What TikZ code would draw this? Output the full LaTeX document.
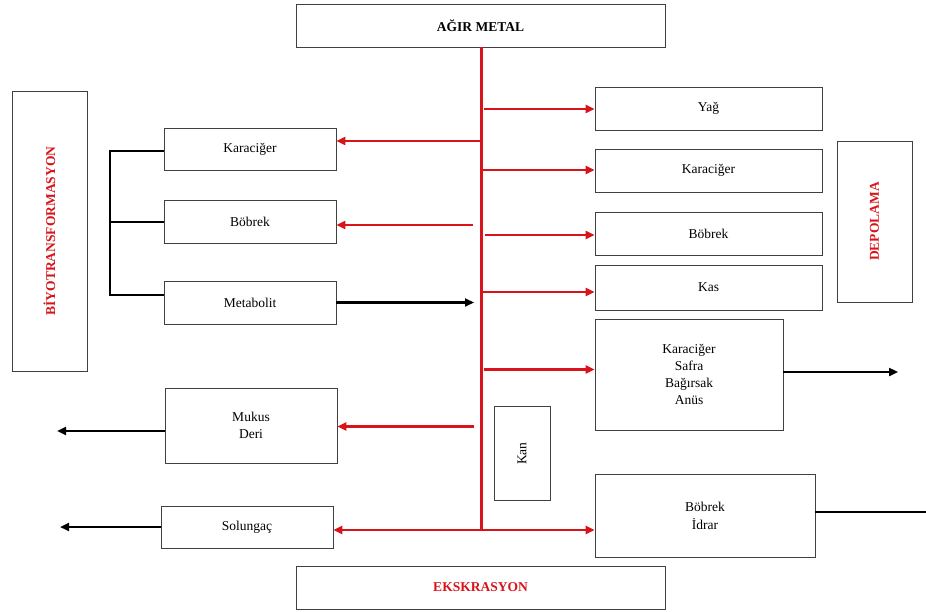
\documentclass[tikz,border=0pt]{standalone}
\usepackage{fontspec}
\setmainfont{Liberation Serif}
\usetikzlibrary{arrows.meta}
\definecolor{lred}{HTML}{D8141A}
\definecolor{bord}{HTML}{404040}
\tikzset{
  box/.style={draw=bord, line width=0.9pt, fill=white, inner sep=0pt, align=center,
    font=\fontsize{13.5}{17.5}\selectfont},
  redarr/.style={draw=lred, line width=2.8pt, -{Triangle[length=9pt,width=8pt]}},
  blkarr/.style={draw=black, line width=2.4pt, -{Triangle[length=9pt,width=8pt]}},
  bracket/.style={draw=black, line width=2.8pt},
  redtxt/.style={text=lred, font=\fontsize{13.5}{16}\selectfont\bfseries}
}
\begin{document}
\begin{tikzpicture}[x=1pt,y=-1pt]
\useasboundingbox (0,0) rectangle (926,612);
% boxes
\node[box, minimum width=369pt, minimum height=43pt, font=\fontsize{13.5}{16}\selectfont\bfseries] (agir) at (480.5,25.5) {AĞIR METAL};
\node[box, minimum width=75pt, minimum height=280pt] (biyo) at (49.5,231) {};
\node[redtxt, rotate=90] (biyot) at (49.5,231) {BİYOTRANSFORMASYON};
\node[box, minimum width=172pt, minimum height=42pt] (karL) at (250,149) {Karaciğer};
\node[box, minimum width=172pt, minimum height=43pt] (bobL) at (250,221.5) {Böbrek};
\node[box, minimum width=172pt, minimum height=43pt] (meta) at (250,302.5) {Metabolit};
\node[box, minimum width=172pt, minimum height=75pt] (mukus) at (251,425.5) {Mukus\\Deri};
\node[box, minimum width=172pt, minimum height=42pt] (solun) at (247,527) {Solungaç};
\node[box, minimum width=227pt, minimum height=43pt] (yag) at (708.5,108.5) {Yağ};
\node[box, minimum width=227pt, minimum height=43pt] (karR) at (708.5,170.5) {Karaciğer};
\node[box, minimum width=227pt, minimum height=43pt] (bobR) at (708.5,233.5) {Böbrek};
\node[box, minimum width=227pt, minimum height=45pt] (kas) at (708.5,287.5) {Kas};
\node[box, minimum width=188pt, minimum height=111pt, font=\fontsize{13.5}{16.7}\selectfont] (big) at (689,374.5) {Karaciğer\\Safra\\Bağırsak\\Anüs};
\node[box, minimum width=75pt, minimum height=161pt] (depo) at (874.5,221.5) {};
\node[redtxt, rotate=90] (depot) at (874.5,221.5) {DEPOLAMA};
\node[box, minimum width=56pt, minimum height=94pt] (kan) at (522,453.5) {};
\node[rotate=90, font=\fontsize{13.5}{16}\selectfont] (kant) at (522,453.5) {Kan};
\node[box, minimum width=220pt, minimum height=83pt, font=\fontsize{13.5}{18}\selectfont] (idrar) at (705,515.5) {Böbrek\\İdrar};
\node[box, minimum width=369pt, minimum height=43pt, text=lred, font=\fontsize{13.5}{16}\selectfont\bfseries] (eks) at (480.5,587.5) {EKSKRASYON};
% spine
\coordinate (sbot) at (481,530);
\draw[lred, line width=3pt] (agir.south -| sbot) -- (sbot);
% spine arrows
\coordinate (s1) at (484,109);
\coordinate (s2) at (481,141);
\coordinate (s3) at (481,170);
\coordinate (s4) at (473,225);
\coordinate (s5) at (485,235);
\coordinate (s6) at (481,292);
\coordinate (s7) at (484,369.5);
\coordinate (s8) at (474,426.5);
\draw[redarr] (s1) -- (s1 -| yag.west);
\draw[redarr] (s2) -- (s2 -| karL.east);
\draw[redarr] (s3) -- (s3 -| karR.west);
\draw[redarr] (s4) -- (s4 -| bobL.east);
\draw[redarr] (s5) -- (s5 -| bobR.west);
\draw[redarr] (s6) -- (s6 -| kas.west);
\draw[redarr] (s7) -- (s7 -| big.west);
\draw[redarr] (s8) -- (s8 -| mukus.east);
\draw[redarr] (sbot) -- (sbot -| solun.east);
\draw[redarr] (sbot) -- (sbot -| idrar.west);
% black arrows
\coordinate (mend) at (474,302.5);
\draw[blkarr] (meta.east) -- (mend);
\coordinate (bigend) at (898,372);
\draw[blkarr] (big.east |- bigend) -- (bigend);
\coordinate (idend) at (926,512);
\draw[black, line width=2.4pt] (idrar.east |- idend) -- (idend);
\coordinate (mukend) at (57,431);
\draw[blkarr] (mukus.west |- mukend) -- (mukend);
\coordinate (solend) at (60,527);
\draw[blkarr] (solun.west) -- (solend);
% bracket
\coordinate (b1) at (110,151);
\coordinate (b2) at (110,222);
\coordinate (b3) at (110,295);
\draw[bracket] (karL.west |- b1) -- (b1) -- (b3) -- (meta.west |- b3);
\draw[bracket] (b2) -- (bobL.west |- b2);
\end{tikzpicture}
\end{document}
